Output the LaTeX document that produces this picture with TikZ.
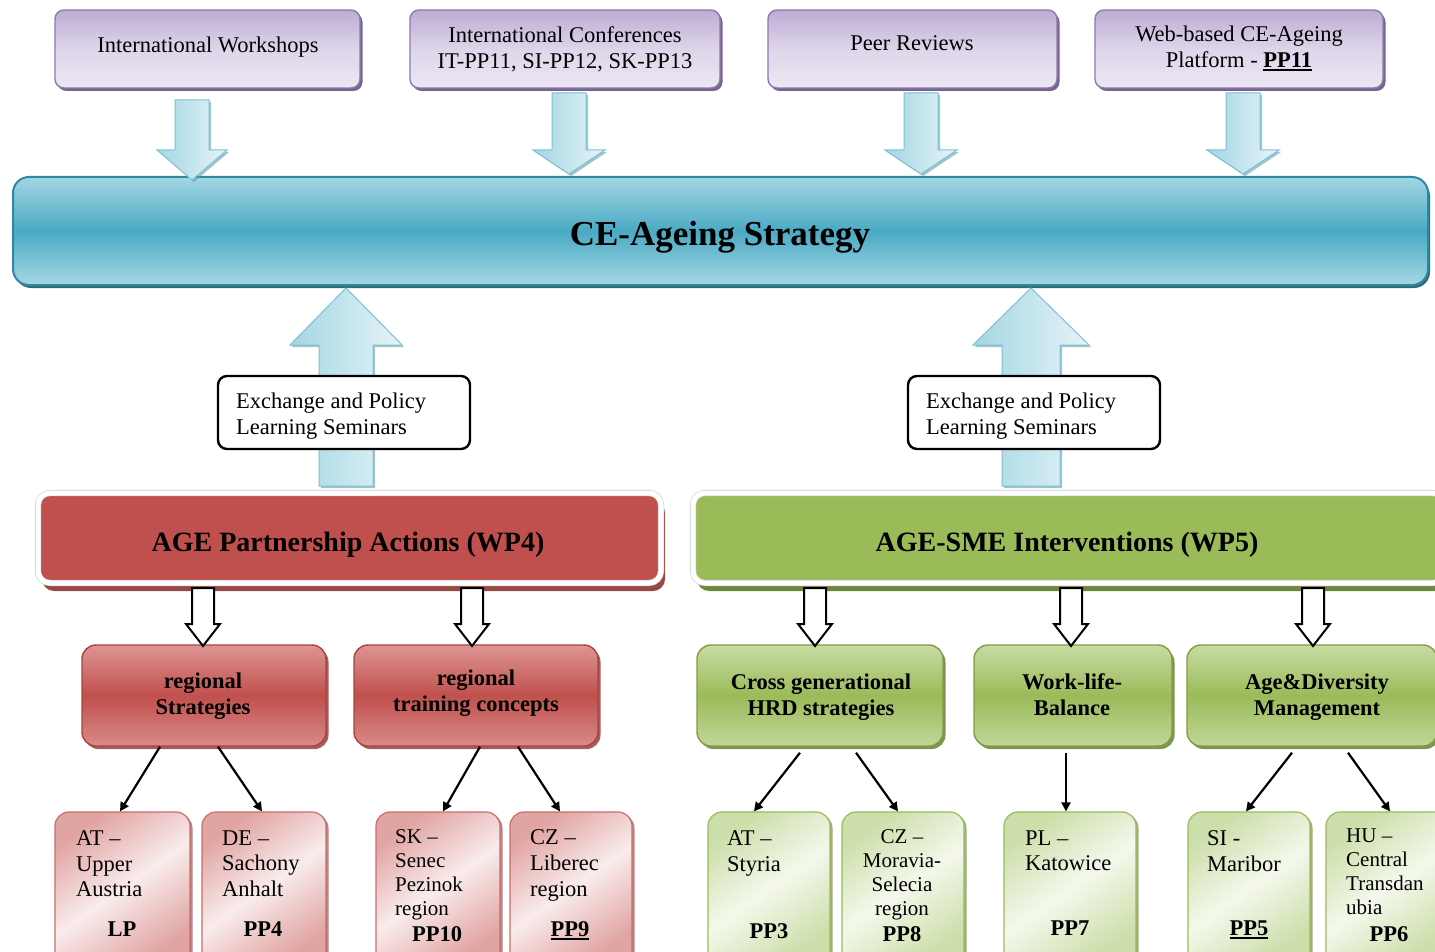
\documentclass[tikz,border=0pt]{standalone}
\usepackage{fontspec}
\setmainfont{Liberation Serif}
\usetikzlibrary{shadows,arrows.meta}
\definecolor{purpB}{HTML}{8E78B0}
\definecolor{purpT}{HTML}{BCACD4}
\definecolor{purpL}{HTML}{ECE7F3}
\definecolor{purpS}{HTML}{5F497A}
\definecolor{cyA}{HTML}{A3D6E3}
\definecolor{cyB}{HTML}{E6F4F8}
\definecolor{cyD}{HTML}{7CC2D5}
\definecolor{stT}{HTML}{A2D6E4}
\definecolor{stM}{HTML}{4AAAC4}
\definecolor{stB}{HTML}{A5D7E4}
\definecolor{stD}{HTML}{2F87A0}
\definecolor{stS}{HTML}{1F5C6C}
\definecolor{redM}{HTML}{C0504D}
\definecolor{redT}{HTML}{DE9593}
\definecolor{redD}{HTML}{A8423F}
\definecolor{redS}{HTML}{8C3533}
\definecolor{grM}{HTML}{9BBB59}
\definecolor{grT}{HTML}{C8DBA3}
\definecolor{grD}{HTML}{7E9E42}
\definecolor{grS}{HTML}{5E7A2B}
\definecolor{pkE}{HTML}{E0A4A2}
\definecolor{pkC}{HTML}{F9ECEC}
\definecolor{pkD}{HTML}{C76E6B}
\definecolor{lgE}{HTML}{CCDEA9}
\definecolor{lgC}{HTML}{F4F8EC}
\definecolor{lgD}{HTML}{9BBB59}
\newcommand{\vblock}[7]{\path[#1] (#2-#6,#3) -- (#2+#6,#3) -- (#2+#6,#4) -- (#2+#7,#4) -- (#2,#5) -- (#2-#7,#4) -- (#2-#6,#4) -- cycle;}
\newcommand{\thul}[1]{\setbox0\hbox{#1}\rlap{\rule[-3.5pt]{\wd0}{2pt}}\box0}
\tikzset{
  topbox/.style={draw=purpB, line width=1.4pt, rounded corners=9pt, top color=purpT, bottom color=purpL, middle color=purpL!70!purpT,
    drop shadow={shadow xshift=2.5pt, shadow yshift=-3pt, fill=purpS, opacity=0.85}, minimum height=78pt, inner sep=0pt},
  bluearrow/.style={left color=cyA, right color=cyB, draw=cyD, line width=1pt, drop shadow={shadow xshift=2pt, shadow yshift=-2pt, fill=cyD!80!black, opacity=0.6}},
  hollowarrow/.style={fill=white, draw=black, line width=2pt, line join=miter},
  stratbox/.style={draw=stD, line width=2pt, rounded corners=16pt, top color=stT, bottom color=stB, middle color=stM,
    drop shadow={shadow xshift=2pt, shadow yshift=-3pt, fill=stS, opacity=0.9}, inner sep=0pt},
  exbox/.style={draw=black, line width=2.4pt, rounded corners=9pt, fill=white, inner sep=0pt},
  wpbox/.style={rounded corners=12pt, draw=black!20, line width=0.6pt, double=white, double distance=5pt, inner sep=0pt},
  redbox/.style={draw=redD, line width=1.4pt, rounded corners=14pt, top color=redT, bottom color=redT!85!redM, middle color=redM,
    drop shadow={shadow xshift=2.5pt, shadow yshift=-3pt, fill=redS, opacity=0.8}, inner sep=0pt, minimum height=101pt},
  greenbox/.style={draw=grD, line width=1.4pt, rounded corners=14pt, top color=grT, bottom color=grT!85!grM, middle color=grM,
    drop shadow={shadow xshift=2.5pt, shadow yshift=-3pt, fill=grS, opacity=0.8}, inner sep=0pt, minimum height=101pt},
  pinkbox/.style={draw=pkD, line width=1.2pt, rounded corners=14pt, top color=pkE, bottom color=pkE, middle color=pkC, shading angle=35,
    drop shadow={shadow xshift=2.5pt, shadow yshift=-2pt, fill=redS, opacity=0.6}, inner sep=0pt, minimum height=153pt},
  lgbox/.style={draw=lgD, line width=1.2pt, rounded corners=14pt, top color=lgE, bottom color=lgE, middle color=lgC, shading angle=35,
    drop shadow={shadow xshift=2.5pt, shadow yshift=-2pt, fill=grS, opacity=0.6}, inner sep=0pt, minimum height=153pt},
  thinarrow/.style={draw=black, line width=2.2pt, -{Triangle[length=9pt,width=9pt]}},
  txt/.style={inner sep=0pt, font=\fontsize{22.5}{26}\selectfont, align=center},
  btxt/.style={inner sep=0pt, font=\bfseries\fontsize{22.5}{26}\selectfont, align=center},
  ltxt/.style={inner sep=0pt, font=\fontsize{22.5}{25.5}\selectfont, align=left, anchor=north west},
  stxt/.style={inner sep=0pt, font=\fontsize{21}{24}\selectfont, align=left, anchor=north west},
}
\begin{document}
\begin{tikzpicture}[x=1pt,y=-1pt]
\useasboundingbox (0,0) rectangle (1435,952);
\clip (0,0) rectangle (1435,952);
\fill[white] (0,0) rectangle (1435,952);

% top boxes
\node[topbox, minimum width=305pt] (ws) at (207.5,49) {};
\node[topbox, minimum width=310pt] (ic) at (565,49) {};
\node[topbox, minimum width=289pt] (pr) at (912.5,49) {};
\node[topbox, minimum width=288pt] (wb) at (1239,49) {};
\node[txt, anchor=base] (wst) at (208,53) {International Workshops};
\node[txt, anchor=north] (ict) at (565,26) {International Conferences\\IT-PP11, SI-PP12, SK-PP13};
\node[txt, anchor=base] (prt) at (912,51) {Peer Reviews};
\node[txt, anchor=north] (wbt) at (1239,26) {Web-based CE-Ageing\\Platform - \textbf{\thul{PP11}}};

% strategy bar
\node[stratbox, minimum width=1415pt, minimum height=108pt] (strat) at (720.5,231) {};
\node[inner sep=0pt, font=\bfseries\fontsize{35}{40}\selectfont, anchor=base] (stratt) at (720,245) {CE-Ageing Strategy};

% blue down arrows
\vblock{bluearrow}{192}{100}{150}{180}{17}{35}
\vblock{bluearrow}{569}{93}{150}{174}{17}{36}
\vblock{bluearrow}{921}{93}{150}{174}{17}{36}
\vblock{bluearrow}{1243}{93}{150}{174}{17}{36}

% blue up arrows
\vblock{bluearrow}{346}{486}{345}{288}{27}{56}
\vblock{bluearrow}{1031}{486}{345}{288}{29}{58}

% exchange boxes
\node[exbox, minimum width=252pt, minimum height=73pt] (exl) at (344,412.5) {};
\node[exbox, minimum width=252pt, minimum height=73pt] (exr) at (1034,412.5) {};
\node[ltxt, font=\fontsize{22.5}{26}\selectfont] (exlt) at (236,392.5) {Exchange and Policy\\Learning Seminars};
\node[ltxt, font=\fontsize{22.5}{26}\selectfont] (exrt) at (926,392.5) {Exchange and Policy\\Learning Seminars};

% work package boxes
\node[wpbox, fill=redM, minimum width=623pt, minimum height=90pt, drop shadow={shadow xshift=4pt, shadow yshift=-8pt, fill=redS, opacity=0.9}] (wp4) at (349.5,538) {};
\node[wpbox, fill=grM, minimum width=752pt, minimum height=90pt, drop shadow={shadow xshift=4pt, shadow yshift=-8pt, fill=grS, opacity=0.9}] (wp5) at (1069,538) {};
\node[inner sep=0pt, font=\bfseries\fontsize{28}{32}\selectfont, anchor=base] (wp4t) at (348,551) {AGE Partnership Actions (WP4)};
\node[inner sep=0pt, font=\bfseries\fontsize{28}{32}\selectfont, anchor=base] (wp5t) at (1067,551) {AGE-SME Interventions (WP5)};

% second-level boxes
\node[redbox, minimum width=244pt] (rs) at (204,695.5) {};
\node[redbox, minimum width=244pt] (rt) at (476,695.5) {};
\node[greenbox, minimum width=246pt] (cg) at (820,695.5) {};
\node[greenbox, minimum width=198pt] (wl) at (1073,695.5) {};
\node[greenbox, minimum width=250pt] (ad) at (1312,695.5) {};
\node[btxt, anchor=north] (rst) at (203,672.5) {regional\\Strategies};
\node[btxt, anchor=north] (rtt) at (476,669.5) {regional\\training concepts};
\node[btxt, anchor=north] (cgt) at (821,673.5) {Cross generational\\HRD strategies};
\node[btxt, anchor=north] (wlt) at (1072,673.5) {Work-life-\\Balance};
\node[btxt, anchor=north] (adt) at (1317,673.5) {Age\&Diversity\\Management};

% hollow arrows
\vblock{hollowarrow}{203}{588}{624}{646}{11}{17}
\vblock{hollowarrow}{472}{588}{624}{646}{11}{17}
\vblock{hollowarrow}{815}{588}{624}{646}{11}{17}
\vblock{hollowarrow}{1071}{588}{624}{646}{11}{17}
\vblock{hollowarrow}{1313}{588}{624}{646}{11}{17}

% partner boxes
\node[pinkbox, minimum width=135pt] (lp) at (122.5,888.5) {};
\node[pinkbox, minimum width=124pt] (pp4) at (264,888.5) {};
\node[pinkbox, minimum width=124pt] (pp10) at (438,888.5) {};
\node[pinkbox, minimum width=122pt] (pp9) at (571,888.5) {};
\node[lgbox, minimum width=122pt] (pp3) at (769,888.5) {};
\node[lgbox, minimum width=122pt] (pp8) at (903,888.5) {};
\node[lgbox, minimum width=132pt] (pp7) at (1070,888.5) {};
\node[lgbox, minimum width=122pt] (pp5) at (1249,888.5) {};
\node[lgbox, minimum width=124pt] (pp6) at (1388,888.5) {};

\node[ltxt] (lpt) at (76,830.5) {AT --\\Upper\\Austria};
\node[ltxt] (pp4t) at (222,830.5) {DE --\\Sachony\\Anhalt};
\node[stxt] (pp10t) at (395,829) {SK --\\Senec\\Pezinok\\region};
\node[ltxt, font=\fontsize{22.5}{26}\selectfont] (pp9t) at (530,829) {CZ --\\Liberec\\region};
\node[ltxt] (pp3t) at (727,830.5) {AT --\\Styria};
\node[stxt, anchor=north, align=center] (pp8t) at (902,829) {CZ --\\Moravia-\\Selecia\\region};
\node[ltxt] (pp7t) at (1025,830.5) {PL --\\Katowice};
\node[ltxt] (pp5t) at (1207,830.5) {SI -\\Maribor};
\node[stxt] (pp6t) at (1346,829) {HU --\\Central\\Transdan\\ubia};

\node[btxt, anchor=base] (lpl) at (122,936) {LP};
\node[btxt, anchor=base] (pp4l) at (263,936) {PP4};
\node[btxt, anchor=base] (pp10l) at (437,941) {PP10};
\node[btxt, anchor=base] (pp9l) at (570,936) {\thul{PP9}};
\node[btxt, anchor=base] (pp3l) at (769,938) {PP3};
\node[btxt, anchor=base] (pp8l) at (902,941) {PP8};
\node[btxt, anchor=base] (pp7l) at (1070,935) {PP7};
\node[btxt, anchor=base] (pp5l) at (1249,935) {\thul{PP5}};
\node[btxt, anchor=base] (pp6l) at (1389,941) {PP6};

% thin arrows
\draw[thinarrow] ([xshift=-44pt]rs.south) -- ([xshift=-2.5pt]lp.north);
\draw[thinarrow] ([xshift=14pt]rs.south) -- ([xshift=-2pt]pp4.north);
\draw[thinarrow] ([xshift=4pt]rt.south) -- ([xshift=5pt]pp10.north);
\draw[thinarrow] ([xshift=42pt]rt.south) -- ([xshift=-11pt]pp9.north);
\draw[thinarrow] ([xshift=-20pt,yshift=-6pt]cg.south) -- ([xshift=-15pt]pp3.north);
\draw[thinarrow] ([xshift=36pt,yshift=-6pt]cg.south) -- ([xshift=-5pt]pp8.north);
\draw[thinarrow] ([xshift=-7pt,yshift=-6pt]wl.south) -- ([xshift=-4pt]pp7.north);
\draw[thinarrow] ([xshift=-20pt,yshift=-6pt]ad.south) -- ([xshift=-3pt]pp5.north);
\draw[thinarrow] ([xshift=36pt,yshift=-6pt]ad.south) -- ([xshift=2pt]pp6.north);
\end{tikzpicture}
\end{document}
